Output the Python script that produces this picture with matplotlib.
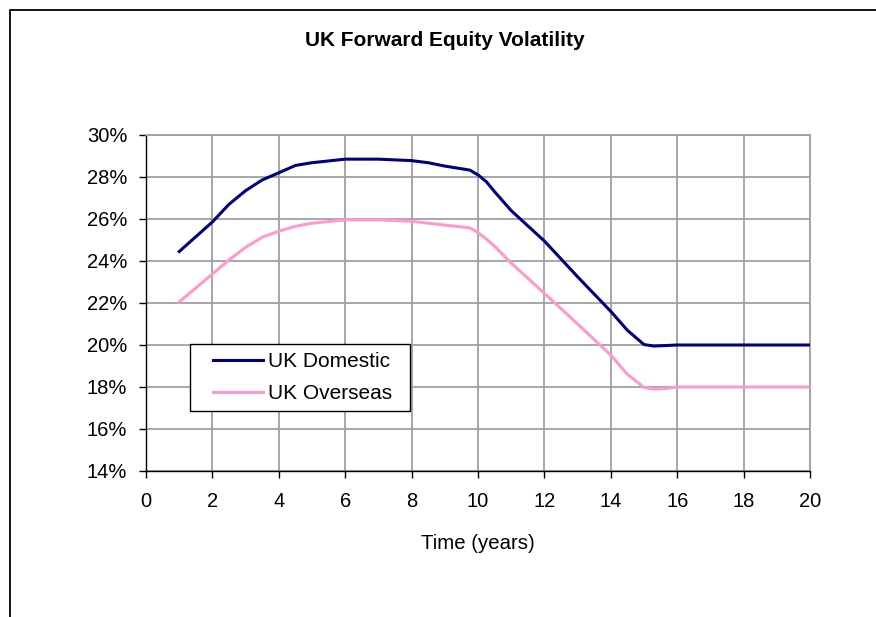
import matplotlib
matplotlib.use("Agg")
import matplotlib.pyplot as plt
from matplotlib.patches import Rectangle
from matplotlib.ticker import FuncFormatter

plt.rcParams['font.family'] = ['Liberation Sans', 'DejaVu Sans']

years = [1, 2, 2.5, 3, 3.5, 4, 4.5, 5, 6, 7, 8, 8.5, 9, 9.75, 10, 10.25, 10.5,
         11, 12, 13, 14, 14.5, 15, 15.3, 15.6, 16, 17, 18, 19, 20]
uk_domestic = [24.45, 25.86, 26.7, 27.35, 27.86, 28.2, 28.55, 28.68, 28.85, 28.85, 28.78, 28.68,
               28.52, 28.33, 28.1, 27.78, 27.3,
               26.4, 24.95, 23.25, 21.6, 20.7, 20.02, 19.95, 19.97, 20.0, 20.0, 20.0, 20.0, 20.0]
uk_overseas = [22.05, 23.38, 24.05, 24.65, 25.13, 25.42, 25.65, 25.8, 25.96, 25.96, 25.89, 25.8,
               25.71, 25.58, 25.35, 25.05, 24.7,
               23.9, 22.46, 21.0, 19.52, 18.6, 17.98, 17.9, 17.92, 18.0, 18.0, 18.0, 18.0, 18.0]
series_names = ["UK Domestic", "UK Overseas"]
title = "UK Forward Equity Volatility"
xlabel = "Time (years)"
xticks = [0, 2, 4, 6, 8, 10, 12, 14, 16, 18, 20]
yticks = [14, 16, 18, 20, 22, 24, 26, 28, 30]

fig = plt.figure(figsize=(8.76, 6.17), dpi=100)
fig.patches.append(Rectangle((9.5/876, -0.1), 2.0, 1.1 - 9.5/617, transform=fig.transFigure,
                             fill=False, edgecolor='black', linewidth=1.3))
ax = fig.add_axes([146/876, 1 - 471/617, (810 - 146)/876, (471 - 135)/617])

ax.plot(years, uk_domestic, color='#000080', linewidth=2.2, label=series_names[0], zorder=3)
ax.plot(years, uk_overseas, color='#FF99CC', linewidth=2.2, label=series_names[1], zorder=3)

ax.set_xlim(0, 20)
ax.set_ylim(14, 30)
ax.set_xticks(xticks)
ax.set_yticks(yticks)
ax.yaxis.set_major_formatter(FuncFormatter(lambda v, p: f"{v:.0f}%"))
ax.grid(True, color='#a0a0a0', linewidth=1.3)
ax.set_axisbelow(True)
for s in ['top', 'right']:
    ax.spines[s].set_color('#a0a0a0')
    ax.spines[s].set_linewidth(1.3)
for s in ['left', 'bottom']:
    ax.spines[s].set_color('black')
    ax.spines[s].set_linewidth(1.0)
ax.tick_params(axis='both', direction='out', length=5, width=1, labelsize=14.5, colors='black')
ax.tick_params(axis='x', pad=10)
ax.tick_params(axis='y', pad=8.6)

ax.set_xlabel(xlabel, fontsize=14.7, labelpad=17)
fig.text(445/876, 1 - 41/617, title, ha='center', va='center', fontsize=15, fontweight='bold')

# legend box
x0, x1, y0, y1 = 190, 410, 344, 411
ax.add_patch(Rectangle(((x0 - 146)/664, (471 - y1)/336), (x1 - x0)/664, (y1 - y0)/336,
                       transform=ax.transAxes, facecolor='white', edgecolor='black',
                       linewidth=1.0, zorder=5, clip_on=False))
leg = ax.legend(loc='center left', bbox_to_anchor=((213 - 146)/664, (471 - 377.5)/336),
                fontsize=15, frameon=False, handlelength=2.4, borderpad=0, labelspacing=0.62,
                handletextpad=0.25, borderaxespad=0)
leg.set_zorder(6)

fig.savefig('out.png', dpi=100)
